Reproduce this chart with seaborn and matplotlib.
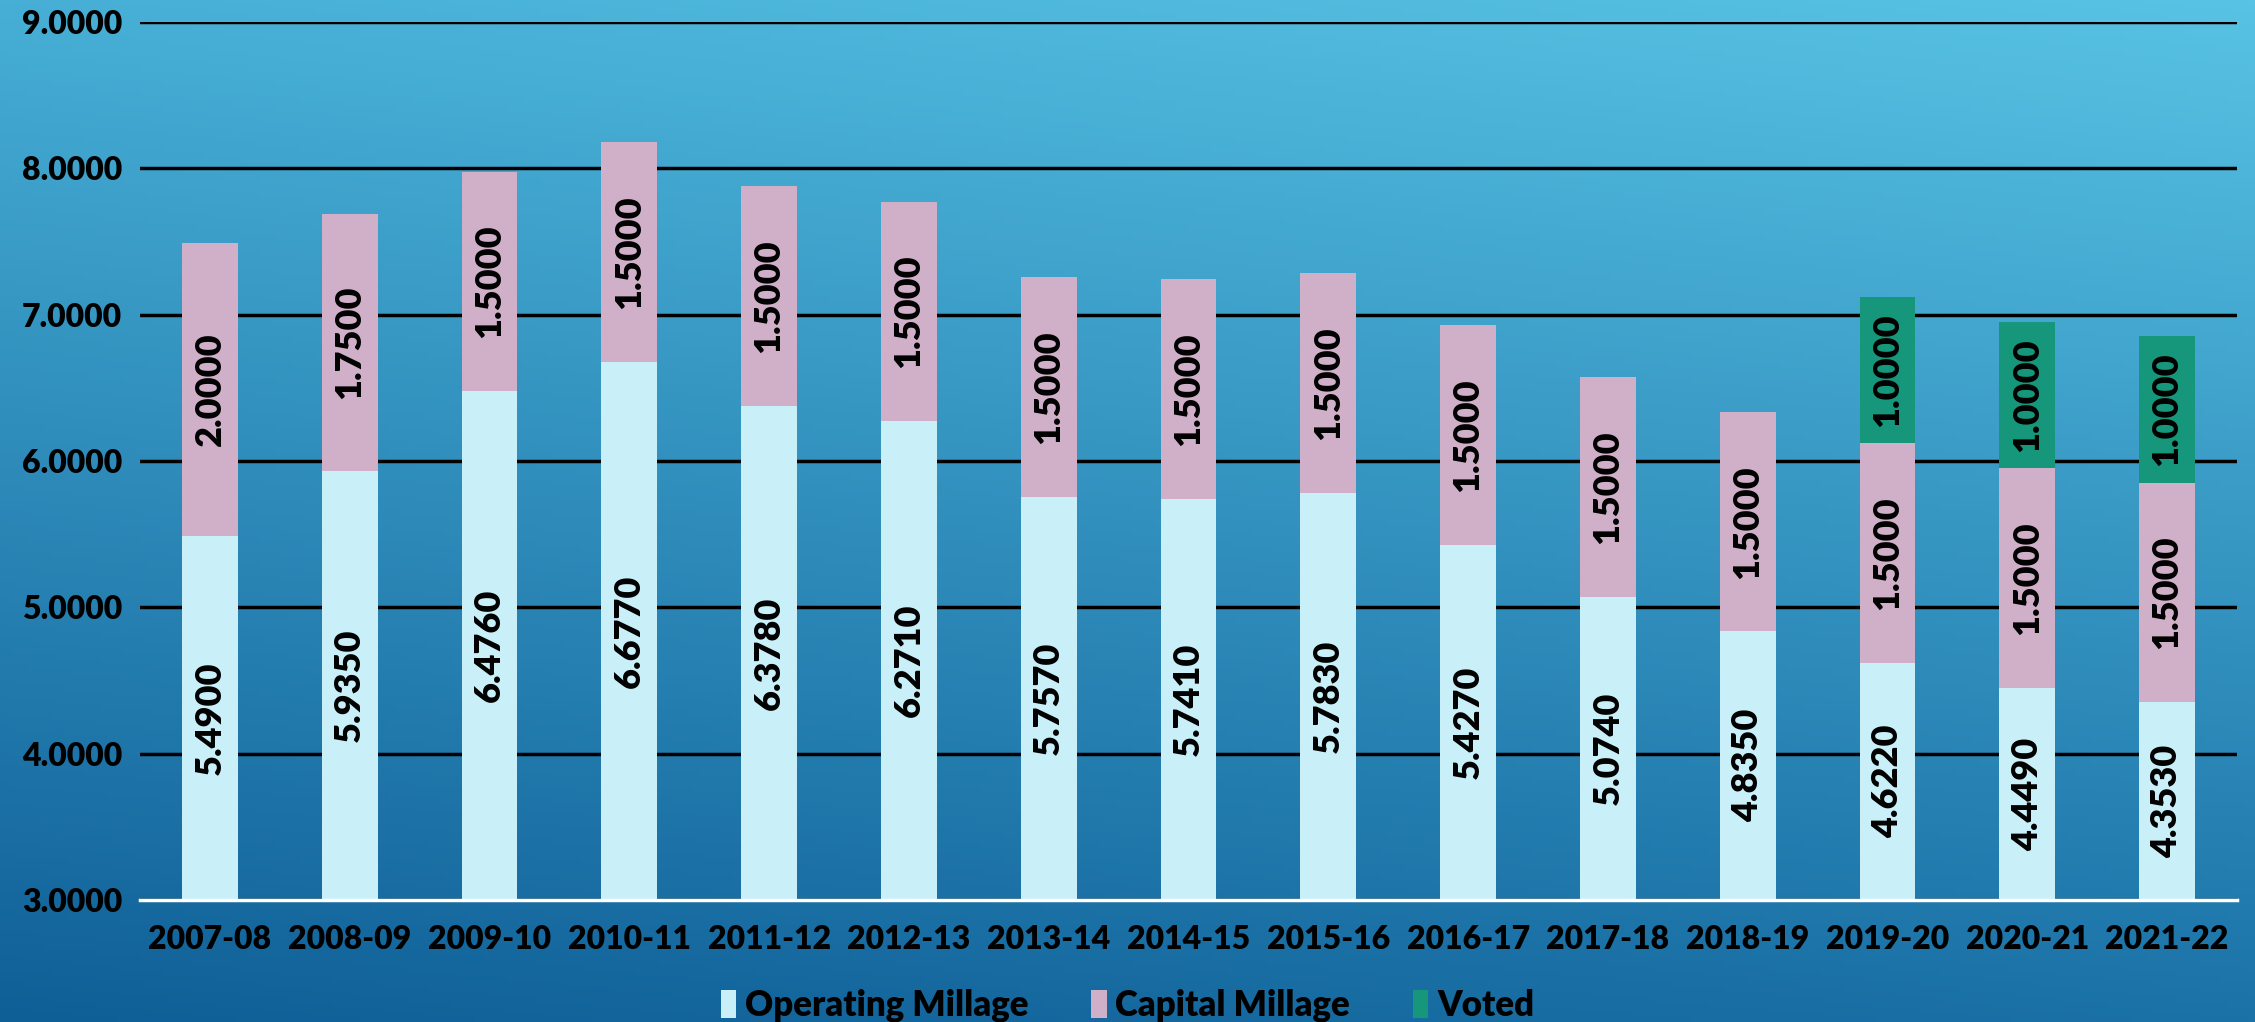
import numpy as np
import pandas as pd
import matplotlib
matplotlib.use("Agg")
import matplotlib.pyplot as plt
import seaborn as sns
from matplotlib.patches import Patch

# 数据
years = ["2007-08", "2008-09", "2009-10", "2010-11", "2011-12", "2012-13", "2013-14", "2014-15",
         "2015-16", "2016-17", "2017-18", "2018-19", "2019-20", "2020-21", "2021-22"]
operating = [5.4900, 5.9350, 6.4760, 6.6770, 6.3780, 6.2710, 5.7570, 5.7410,
             5.7830, 5.4270, 5.0740, 4.8350, 4.6220, 4.4490, 4.3530]
capital = [2.0000, 1.7500, 1.5000, 1.5000, 1.5000, 1.5000, 1.5000, 1.5000,
           1.5000, 1.5000, 1.5000, 1.5000, 1.5000, 1.5000, 1.5000]
voted = [0, 0, 0, 0, 0, 0, 0, 0, 0, 0, 0, 0, 1.0000, 1.0000, 1.0000]
series_names = ["Operating Millage", "Capital Millage", "Voted"]
y_ticks = [3, 4, 5, 6, 7, 8, 9]

colors = ["#C9F0F9", "#D0B0C8", "#16967A"]

sns.set_theme(style="white")
plt.rcParams['font.family'] = ['Lato', 'DejaVu Sans']
plt.rcParams['font.weight'] = 'bold'
plt.rcParams['text.color'] = 'black'
plt.rcParams['xtick.color'] = 'black'
plt.rcParams['ytick.color'] = 'black'

df = pd.DataFrame({"year": years, "operating": operating, "capital": capital, "voted": voted})
df["bottom2"] = df["operating"] + df["capital"]

fig = plt.figure(figsize=(22.55, 10.22), dpi=100)

# 背景渐变
bg = fig.add_axes([0, 0, 1, 1], zorder=0)
h, w = 200, 400
tl = np.array([0x47, 0xAF, 0xD6]) / 255
tr = np.array([0x58, 0xC3, 0xE4]) / 255
bl = np.array([0x0F, 0x5F, 0x97]) / 255
br = np.array([0x1B, 0x72, 0xA7]) / 255
u = np.linspace(0, 1, w)[None, :, None]
v = np.linspace(0, 1, h)[:, None, None]
img = (1 - v) * ((1 - u) * tl + u * tr) + v * ((1 - u) * bl + u * br)
bg.imshow(img, aspect="auto", extent=[0, 1, 0, 1])
bg.axis("off")

ax = fig.add_axes([140 / 2255, 1 - 900 / 1022, (2237 - 140) / 2255, (900 - 22) / 1022], zorder=1)
ax.patch.set_alpha(0)

bar_kw = dict(width=0.4, ax=ax, saturation=1, zorder=2, linewidth=0, edgecolor="none")
sns.barplot(data=df, x="year", y="operating", color=colors[0], **bar_kw)
sns.barplot(data=df, x="year", y="capital", bottom=df["operating"], color=colors[1], **bar_kw)
sns.barplot(data=df, x="year", y="voted", bottom=df["bottom2"], color=colors[2], **bar_kw)

# 数值标签
for i in range(len(years)):
    segs = [(0, operating[i]), (operating[i], capital[i]), (operating[i] + capital[i], voted[i])]
    for b, val in segs:
        if val <= 0:
            continue
        yc = max(b, 3) + (b + val - max(b, 3)) / 2
        ax.text(i, yc, f"{val:.4f}", rotation=90, ha="center", va="center",
                fontsize=26, fontweight="heavy", color="black", zorder=3)

ax.set_ylim(3, 9)
ax.set_xlim(-0.5, len(years) - 0.5)
ax.set_yticks(y_ticks)
ax.set_yticklabels([f"{t:.4f}" for t in y_ticks])
ax.yaxis.grid(True, color="black", linewidth=2.5, zorder=0)
ax.set_axisbelow(True)
for s in ["top", "right", "left"]:
    ax.spines[s].set_visible(False)
ax.spines["bottom"].set_color("white")
ax.spines["bottom"].set_linewidth(2.5)
ax.spines["bottom"].set_zorder(4)
ax.set_xlabel("")
ax.set_ylabel("")
ax.tick_params(axis="y", length=0, pad=13, labelsize=23, labelcolor="black")
ax.tick_params(axis="x", length=0, pad=18, labelsize=23, labelcolor="black")
for lab in ax.get_xticklabels() + ax.get_yticklabels():
    lab.set_fontweight("heavy")

handles = [Patch(facecolor=c, edgecolor="none") for c in colors]
leg = fig.legend(handles, series_names, loc="center", bbox_to_anchor=(0.5, 0.016), ncol=3,
                 frameon=False, handlelength=0.45, handleheight=0.9, handletextpad=0.25,
                 columnspacing=1.8, prop={"weight": "heavy", "size": 25})
for t in leg.get_texts():
    t.set_color("black")

fig.savefig("out.png", dpi=100)
